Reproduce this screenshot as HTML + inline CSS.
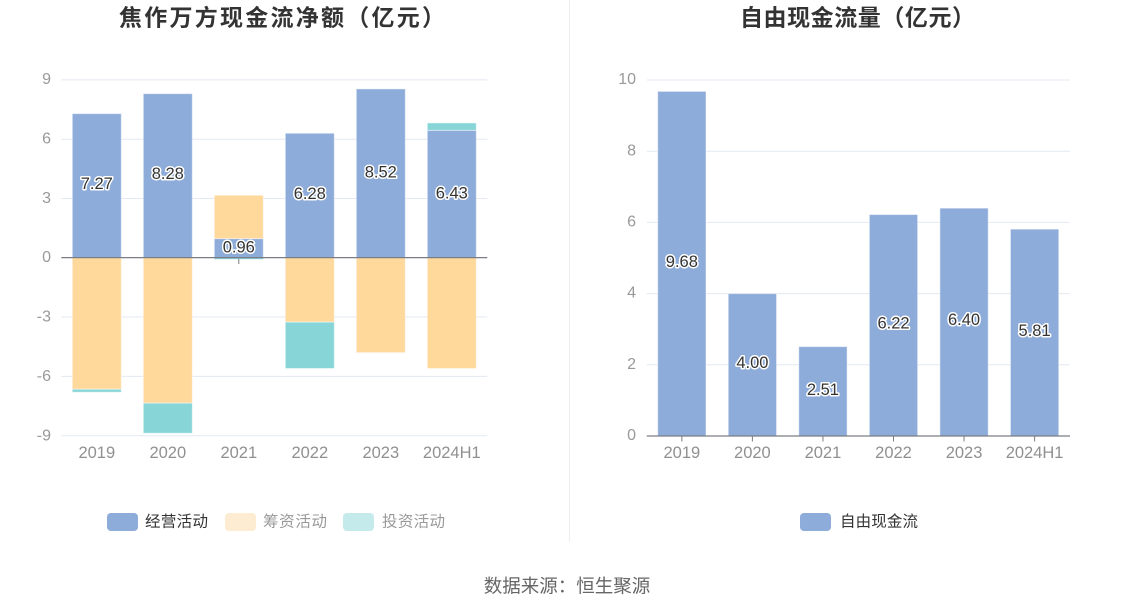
<!DOCTYPE html>
<html>
<head>
<meta charset="utf-8">
<style>
  html,body{margin:0;padding:0;background:#fff;}
  svg{display:block;}
  text{font-family:"Liberation Sans","Noto Sans CJK SC",sans-serif;}
  .yl{font-size:16px;fill:#999;text-anchor:end;dominant-baseline:central;}
  .xl{font-size:16.5px;fill:#909090;text-anchor:middle;dominant-baseline:central;}
  .lb{font-size:16.5px;fill:#333;text-anchor:middle;dominant-baseline:central;stroke:#fff;stroke-width:3px;paint-order:stroke;stroke-linejoin:round;}
  .grid{stroke:#e3e8f3;stroke-width:1;}
</style>
</head>
<body>
<svg width="1134" height="612" viewBox="0 0 1134 612" xmlns="http://www.w3.org/2000/svg">
  <rect width="1134" height="612" fill="#fff"/>

  <!-- Titles -->
  <text x="119" y="25.5" font-size="23" font-weight="bold" fill="#333" textLength="326" lengthAdjust="spacing">焦作万方现金流净额（亿元）</text>
  <text x="740" y="25.5" font-size="23" font-weight="bold" fill="#333" textLength="235" lengthAdjust="spacing">自由现金流量（亿元）</text>

  <!-- divider -->
  <line x1="569.5" y1="0" x2="569.5" y2="542" stroke="#eeeeee" stroke-width="1"/>

  <!-- LEFT CHART -->
  <g>
    <line class="grid" x1="61.3" y1="79.9" x2="487.3" y2="79.9"/>
    <line class="grid" x1="61.3" y1="139.2" x2="487.3" y2="139.2"/>
    <line class="grid" x1="61.3" y1="198.5" x2="487.3" y2="198.5"/>
    <line class="grid" x1="61.3" y1="317" x2="487.3" y2="317"/>
    <line class="grid" x1="61.3" y1="376.4" x2="487.3" y2="376.4"/>
    <line class="grid" x1="61.3" y1="435.8" x2="487.3" y2="435.8"/>

    <text class="yl" x="51" y="79.5">9</text>
    <text class="yl" x="51" y="139">6</text>
    <text class="yl" x="51" y="198.3">3</text>
    <text class="yl" x="51" y="257.6">0</text>
    <text class="yl" x="51" y="317">-3</text>
    <text class="yl" x="51" y="376.4">-6</text>
    <text class="yl" x="51" y="435.8">-9</text>

    <g stroke="rgba(255,255,255,0.45)" stroke-width="1">
      <!-- 2019 -->
      <rect x="72.3" y="113.65" width="49" height="143.95" fill="#8eacd9"/>
      <rect x="72.3" y="257.6" width="49" height="131.67" fill="#ffd89c"/>
      <rect x="72.3" y="389.27" width="49" height="2.97" fill="#88d5d8"/>
      <!-- 2020 -->
      <rect x="143.3" y="93.66" width="49" height="163.94" fill="#8eacd9"/>
      <rect x="143.3" y="257.6" width="49" height="145.53" fill="#ffd89c"/>
      <rect x="143.3" y="403.13" width="49" height="30.1" fill="#88d5d8"/>
      <!-- 2021 -->
      <rect x="214.3" y="238.6" width="49" height="19" fill="#8eacd9"/>
      <rect x="214.3" y="195.24" width="49" height="43.36" fill="#ffd89c"/>
      <rect x="214.3" y="257.6" width="49" height="1.6" fill="#88d5d8" stroke="none"/>
      <!-- 2022 -->
      <rect x="285.3" y="133.26" width="49" height="124.34" fill="#8eacd9"/>
      <rect x="285.3" y="257.6" width="49" height="64.55" fill="#ffd89c"/>
      <rect x="285.3" y="322.15" width="49" height="46.33" fill="#88d5d8"/>
      <!-- 2023 -->
      <rect x="356.3" y="88.9" width="49" height="168.7" fill="#8eacd9"/>
      <rect x="356.3" y="257.6" width="49" height="95.04" fill="#ffd89c"/>
      <!-- 2024H1 -->
      <rect x="427.3" y="130.29" width="49" height="127.31" fill="#8eacd9"/>
      <rect x="427.3" y="122.96" width="49" height="7.33" fill="#88d5d8"/>
      <rect x="427.3" y="257.6" width="49" height="110.88" fill="#ffd89c"/>
    </g>

    <!-- zero axis -->
    <line x1="61.3" y1="257.6" x2="487.3" y2="257.6" stroke="#7a7d85" stroke-width="1.2"/>
    <line x1="238.8" y1="259" x2="238.8" y2="264" stroke="#7a7d85" stroke-width="1"/>

    <text class="lb" x="96.8" y="184.2">7.27</text>
    <text class="lb" x="167.8" y="174.2">8.28</text>
    <text class="lb" x="238.8" y="247.3">0.96</text>
    <text class="lb" x="309.8" y="194">6.28</text>
    <text class="lb" x="380.8" y="172.7">8.52</text>
    <text class="lb" x="451.8" y="193.3">6.43</text>

    <text class="xl" x="96.8" y="453">2019</text>
    <text class="xl" x="167.8" y="453">2020</text>
    <text class="xl" x="238.8" y="453">2021</text>
    <text class="xl" x="309.8" y="453">2022</text>
    <text class="xl" x="380.8" y="453">2023</text>
    <text class="xl" x="451.8" y="453">2024H1</text>
  </g>

  <!-- RIGHT CHART -->
  <g>
    <line class="grid" x1="646.7" y1="80" x2="1070" y2="80"/>
    <line class="grid" x1="646.7" y1="151.2" x2="1070" y2="151.2"/>
    <line class="grid" x1="646.7" y1="222.4" x2="1070" y2="222.4"/>
    <line class="grid" x1="646.7" y1="293.6" x2="1070" y2="293.6"/>
    <line class="grid" x1="646.7" y1="364.8" x2="1070" y2="364.8"/>

    <text class="yl" x="636" y="79.5">10</text>
    <text class="yl" x="636" y="150.8">8</text>
    <text class="yl" x="636" y="222">6</text>
    <text class="yl" x="636" y="293.2">4</text>
    <text class="yl" x="636" y="364.4">2</text>
    <text class="yl" x="636" y="435.6">0</text>

    <g fill="#8eacd9" stroke="rgba(255,255,255,0.45)" stroke-width="1">
      <rect x="657.7" y="91.4" width="48.3" height="344.6"/>
      <rect x="728.25" y="293.6" width="48.3" height="142.4"/>
      <rect x="798.8" y="346.64" width="48.3" height="89.36"/>
      <rect x="869.35" y="214.57" width="48.3" height="221.43"/>
      <rect x="939.9" y="208.16" width="48.3" height="227.84"/>
      <rect x="1010.45" y="229.16" width="48.3" height="206.84"/>
    </g>

    <line x1="646.7" y1="436" x2="1070" y2="436" stroke="#7a7d85" stroke-width="1.2"/>
    <g stroke="#7a7d85" stroke-width="1">
      <line x1="681.85" y1="436" x2="681.85" y2="441.5"/>
      <line x1="752.4" y1="436" x2="752.4" y2="441.5"/>
      <line x1="822.95" y1="436" x2="822.95" y2="441.5"/>
      <line x1="893.5" y1="436" x2="893.5" y2="441.5"/>
      <line x1="964.05" y1="436" x2="964.05" y2="441.5"/>
      <line x1="1034.6" y1="436" x2="1034.6" y2="441.5"/>
    </g>

    <text class="lb" x="681.85" y="262">9.68</text>
    <text class="lb" x="752.4" y="363">4.00</text>
    <text class="lb" x="822.95" y="389.8">2.51</text>
    <text class="lb" x="893.5" y="323.5">6.22</text>
    <text class="lb" x="964.05" y="320.2">6.40</text>
    <text class="lb" x="1034.6" y="330.8">5.81</text>

    <text class="xl" x="681.85" y="453">2019</text>
    <text class="xl" x="752.4" y="453">2020</text>
    <text class="xl" x="822.95" y="453">2021</text>
    <text class="xl" x="893.5" y="453">2022</text>
    <text class="xl" x="964.05" y="453">2023</text>
    <text class="xl" x="1034.6" y="453">2024H1</text>
  </g>

  <!-- Legends -->
  <rect x="107" y="513" width="31" height="18" rx="4" fill="#8eacd9"/>
  <text x="145" y="522" font-size="15.5" fill="#333" dominant-baseline="central" textLength="63">经营活动</text>
  <rect x="225" y="513" width="31" height="18" rx="4" fill="#fdecd2"/>
  <text x="263" y="522" font-size="15.5" fill="#999" dominant-baseline="central" textLength="64">筹资活动</text>
  <rect x="343" y="513" width="31" height="18" rx="4" fill="#c4eaeb"/>
  <text x="382" y="522" font-size="15.5" fill="#999" dominant-baseline="central" textLength="63">投资活动</text>

  <rect x="800" y="513" width="31" height="18" rx="4" fill="#8eacd9"/>
  <text x="840" y="522" font-size="15.5" fill="#333" dominant-baseline="central" textLength="78">自由现金流</text>

  <!-- Source -->
  <text x="567" y="586" font-size="18.5" fill="#666" text-anchor="middle" dominant-baseline="central">数据来源：恒生聚源</text>
</svg>
</body>
</html>
